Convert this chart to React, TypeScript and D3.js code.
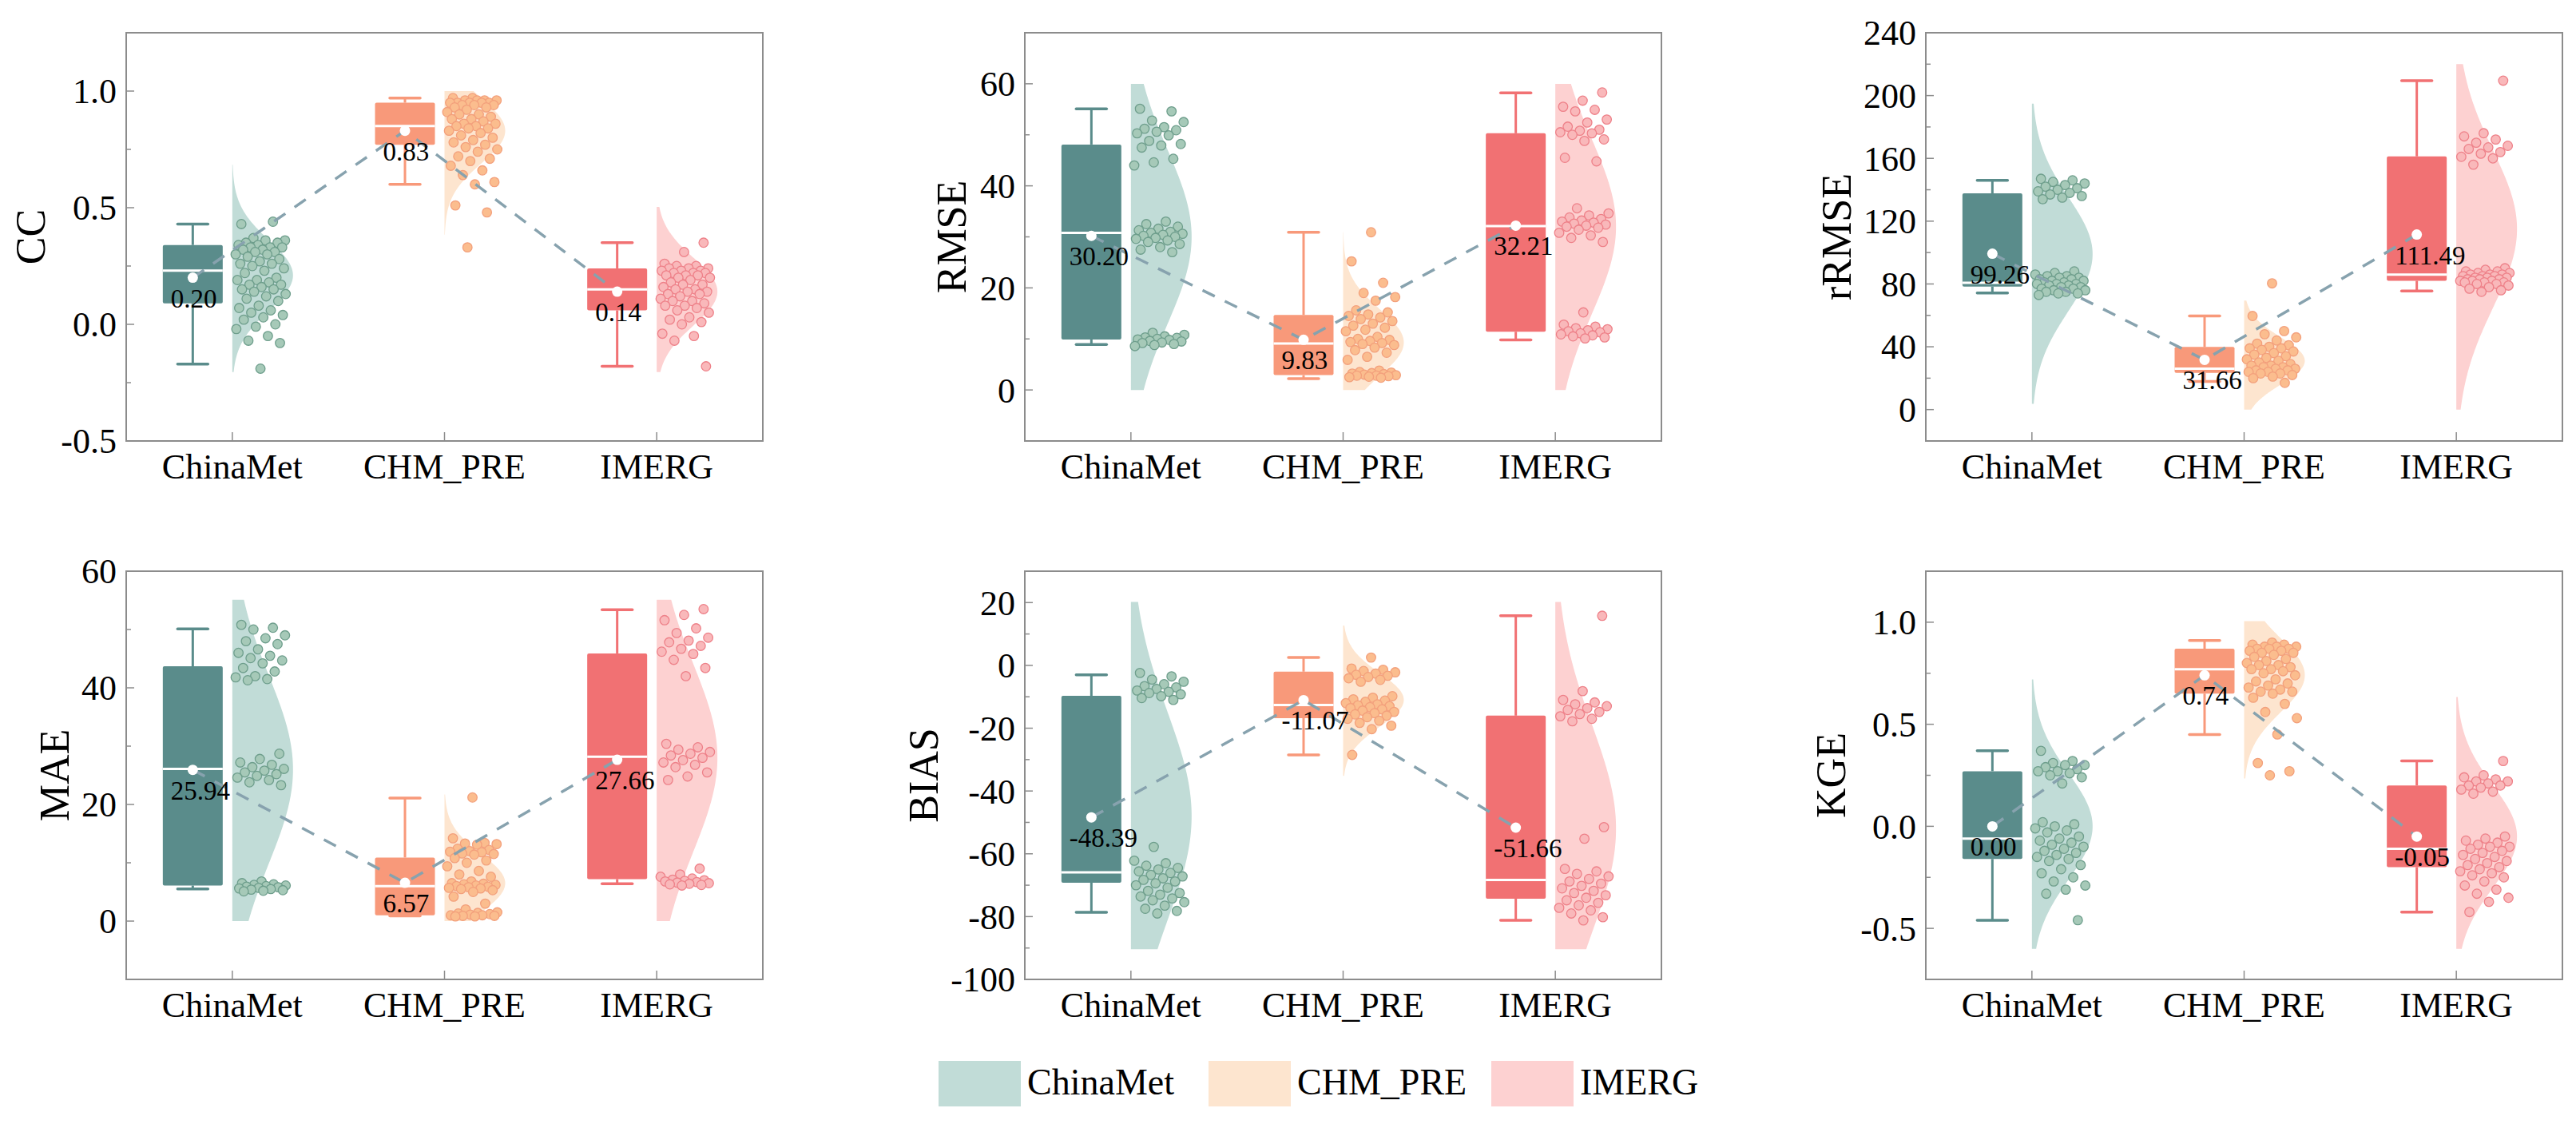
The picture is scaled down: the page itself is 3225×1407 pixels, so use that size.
import * as d3 from 'd3'
import { useEffect, useRef } from 'react'

const categories = ['ChinaMet', 'CHM_PRE', 'IMERG']
const boxColors = ['#5a8c8b', '#f8997a', '#f17173']
const violinColors = ['#c1dcd7', '#fde5cf', '#fdd1d1']
const pointFills = ['#a6c9b8', '#fbbd8e', '#f9b8ba']
const pointStrokes = ['#6e9e8c', '#f3a07c', '#ee8189']

// CC
const ccChinaMet = [0.43, 0.44, 0.37, 0.36, 0.36, 0.35, 0.35, 0.34, 0.34, 0.33, 0.33, 0.33, 0.32, 0.32, 0.31, 0.31, 0.30, 0.30, 0.29, 0.28, 0.27, 0.26, 0.26, 0.25, 0.24, 0.23, 0.22, 0.20, 0.19, 0.19, 0.18, 0.17, 0.17, 0.16, 0.15, 0.15, 0.14, 0.13, 0.12, 0.11, 0.10, 0.08, 0.07, 0.06, 0.05, 0.04, 0.03, 0.02, 0.00, -0.01, -0.02, -0.05, -0.07, -0.08, -0.19]
const ccChmPre = [0.97, 0.97, 0.96, 0.96, 0.96, 0.96, 0.95, 0.95, 0.95, 0.95, 0.95, 0.94, 0.94, 0.94, 0.93, 0.93, 0.92, 0.91, 0.90, 0.90, 0.89, 0.88, 0.88, 0.87, 0.86, 0.86, 0.85, 0.85, 0.84, 0.84, 0.83, 0.82, 0.81, 0.80, 0.79, 0.78, 0.77, 0.76, 0.75, 0.74, 0.72, 0.71, 0.70, 0.68, 0.66, 0.64, 0.61, 0.60, 0.51, 0.48, 0.33]
const ccImerg = [0.35, 0.31, 0.26, 0.25, 0.25, 0.24, 0.24, 0.24, 0.23, 0.23, 0.23, 0.22, 0.22, 0.22, 0.21, 0.21, 0.21, 0.20, 0.20, 0.19, 0.18, 0.17, 0.17, 0.16, 0.15, 0.15, 0.14, 0.14, 0.13, 0.13, 0.12, 0.11, 0.10, 0.10, 0.09, 0.08, 0.08, 0.07, 0.06, 0.05, 0.03, 0.02, 0.01, 0.00, -0.04, -0.05, -0.07, -0.18]
const ccBox = [[-0.17, 0.09, 0.23, 0.34, 0.43], [0.60, 0.77, 0.85, 0.95, 0.97], [-0.18, 0.06, 0.15, 0.24, 0.35]]
const ccMeans = [0.20, 0.83, 0.14]
const ccViolin = [[-0.205, 0.684, 0.21, 0.15], [0.384, 1.0, 0.83, 0.14], [-0.205, 0.503, 0.14, 0.145]]
const ccTicks = [-0.5, 0, 0.5, 1.0]

// RMSE
const rmseChinaMet = [55.1, 54.6, 52.8, 52.5, 51.5, 51.2, 50.9, 50.6, 50.3, 49.9, 48.8, 48.2, 47.9, 47.5, 45.3, 44.6, 44.0, 33.0, 32.5, 32.0, 31.6, 31.3, 31.0, 30.8, 30.6, 30.4, 30.2, 30.0, 29.8, 29.6, 29.3, 29.0, 28.6, 28.0, 27.5, 27.0, 11.2, 10.8, 10.5, 10.3, 10.2, 10.0, 9.9, 9.8, 9.6, 9.5, 9.3, 9.2, 9.0, 8.8, 8.6]
const rmseChmPre = [30.9, 25.2, 21.0, 19.0, 18.2, 17.5, 15.6, 15.2, 14.8, 14.5, 14.2, 13.9, 13.5, 13.0, 12.6, 12.2, 11.8, 11.5, 10.4, 10.0, 9.8, 9.6, 9.4, 9.2, 9.0, 8.8, 8.3, 7.8, 7.3, 6.5, 5.9, 3.8, 3.5, 3.4, 3.3, 3.2, 3.1, 3.0, 2.9, 2.8, 2.8, 2.7, 2.6, 2.5, 2.4]
const rmseImerg = [58.3, 56.7, 55.5, 54.9, 54.6, 53.0, 52.4, 51.6, 51.0, 50.8, 50.5, 50.3, 50.0, 49.1, 48.8, 45.5, 44.8, 35.6, 34.6, 34.2, 33.8, 33.5, 33.2, 33.0, 32.8, 32.6, 32.4, 32.2, 32.0, 31.8, 31.4, 30.8, 30.3, 29.8, 29.0, 15.2, 12.8, 12.4, 12.1, 11.9, 11.7, 11.5, 11.3, 11.1, 10.9, 10.7, 10.5, 10.3, 10.1]
const rmseBox = [[8.9, 9.9, 30.8, 48.1, 55.1], [2.2, 2.9, 9.1, 14.7, 30.9], [9.8, 11.4, 32.1, 50.3, 58.2]]
const rmseMeans = [30.20, 9.83, 32.21]
const rmseViolin = [[0, 60, 30, 17], [0, 30.9, 9.3, 6.5], [0, 60, 32, 17]]
const rmseTicks = [0, 20, 40, 60]

// rRMSE
const rrmseChinaMet = [147, 146, 145, 144, 143, 142, 141, 140, 139, 138, 137, 136, 135, 134, 88, 87, 86, 85, 85, 84, 84, 83, 83, 82, 82, 81, 81, 80, 80, 80, 79, 79, 78, 78, 77, 77, 76, 76, 75, 75, 74, 74, 73]
const rrmseChmPre = [80.4, 59.6, 50, 48, 46, 44, 42, 41, 40, 39, 39, 38, 37, 36, 35, 34, 33, 32, 31, 30, 29, 28, 28, 27, 27, 26, 26, 25, 25, 24, 24, 23, 23, 22, 21, 20, 17]
const rrmseImerg = [209.5, 176, 174, 172, 170, 168, 167, 166, 164, 163, 161, 160, 156, 90, 89, 88, 88, 87, 87, 86, 86, 86, 85, 85, 85, 84, 84, 84, 83, 83, 83, 82, 82, 82, 81, 81, 81, 80, 80, 79, 78, 77, 76, 75]
const rrmseBox = [[74.2, 78.3, 80.7, 137.7, 146], [17.9, 23.4, 26, 39.9, 59.6], [75.5, 82, 86, 161.3, 209.5]]
const rrmseMeans = [99.26, 31.66, 111.49]
const rrmseViolin = [[3.7, 194.8, 99, 36], [0, 69.4, 31, 15], [0, 220, 115, 50]]
const rrmseTicks = [0, 40, 80, 120, 160, 200, 240]

// MAE
const maeChinaMet = [50.8, 50.3, 50.0, 49.0, 48.5, 48.0, 47.5, 46.6, 46.0, 45.5, 45.1, 44.7, 44.2, 43.4, 42.8, 42.0, 41.8, 41.5, 41.3, 28.7, 27.8, 27.2, 26.8, 26.4, 26.1, 25.8, 25.5, 25.2, 24.9, 24.6, 24.2, 23.8, 23.3, 6.8, 6.5, 6.3, 6.2, 6.1, 6.0, 5.9, 5.8, 5.7, 5.6, 5.5, 5.4, 5.3, 5.2, 5.1]
const maeChmPre = [21.2, 14.2, 13.4, 13.3, 13.2, 13.1, 12.4, 12.2, 12.0, 11.9, 11.8, 11.6, 11.5, 11.4, 10.8, 10.4, 10.0, 9.4, 8.6, 8.0, 7.6, 6.8, 6.5, 6.4, 6.3, 6.2, 6.1, 6.0, 5.9, 5.8, 5.7, 5.6, 5.5, 5.3, 5.0, 4.2, 3.0, 2.0, 1.5, 1.4, 1.3, 1.2, 1.1, 1.0, 1.0, 0.9, 0.9, 0.8, 0.8]
const maeImerg = [53.5, 52.5, 51.6, 50.2, 49.4, 48.6, 48.1, 47.8, 47.2, 46.7, 46.2, 45.8, 44.8, 43.4, 42.0, 30.4, 29.8, 29.4, 29.0, 28.7, 28.4, 28.0, 27.6, 27.2, 26.8, 26.4, 25.5, 24.8, 24.2, 9.0, 8.0, 7.6, 7.3, 7.1, 7.0, 6.9, 6.8, 6.7, 6.6, 6.5, 6.4, 6.3, 6.2, 6.1]
const maeBox = [[5.5, 6.1, 26.1, 43.7, 50.1], [0.9, 1.0, 6.0, 10.9, 21.1], [6.4, 7.2, 28.2, 45.9, 53.4]]
const maeMeans = [25.94, 6.57, 27.66]
const maeViolin = [[0, 55.1, 26, 16], [0, 21.7, 6.5, 5], [0, 55.1, 28, 16]]
const maeTicks = [0, 20, 40, 60]

// BIAS
const biasChinaMet = [-2.4, -3.5, -4.5, -5.2, -6.0, -6.6, -7.0, -7.5, -8.0, -8.4, -8.8, -9.2, -9.8, -10.4, -11.0, -57.8, -62.2, -63.0, -63.8, -64.5, -65.0, -65.6, -66.1, -66.7, -67.2, -67.8, -68.3, -68.8, -69.4, -70.0, -70.8, -71.8, -72.5, -73.0, -73.6, -74.2, -74.8, -75.4, -76.5, -77.5, -78.2, -79.0]
const biasChmPre = [2.5, -1.0, -1.4, -1.8, -2.2, -2.6, -3.0, -3.3, -3.7, -4.1, -4.6, -5.2, -9.8, -10.3, -10.8, -11.2, -11.6, -12.0, -12.4, -12.7, -13.0, -13.3, -13.6, -14.0, -14.4, -14.8, -15.2, -15.6, -16.0, -16.5, -17.0, -17.6, -18.3, -19.2, -20.3, -28.5]
const biasImerg = [15.8, -8.2, -11.0, -11.8, -12.4, -13.0, -13.6, -14.2, -14.8, -15.5, -16.2, -17.0, -17.8, -51.5, -55.2, -64.8, -65.6, -66.4, -67.2, -68.0, -68.8, -69.5, -70.2, -71.0, -71.8, -72.5, -73.2, -74.0, -74.8, -75.6, -76.4, -77.2, -78.0, -79.0, -80.2, -81.2]
const biasBox = [[-78.6, -69.2, -65.9, -9.7, -3.0], [-28.5, -16.8, -12.6, -2.0, 2.5], [-81.2, -74.3, -68.3, -16.0, 15.8]]
const biasMeans = [-48.39, -11.07, -51.66]
const biasViolin = [[-90.4, 20.2, -48, 33], [-35.2, 12.7, -11, 8.5], [-90.4, 20.2, -52, 33]]
const biasTicks = [-100, -80, -60, -40, -20, 0, 20]

// KGE
const kgeChinaMet = [0.37, 0.32, 0.31, 0.30, 0.30, 0.29, 0.28, 0.27, 0.27, 0.26, 0.25, 0.24, 0.21, 0.02, 0.01, 0.00, -0.01, -0.02, -0.03, -0.05, -0.06, -0.07, -0.08, -0.09, -0.10, -0.11, -0.12, -0.13, -0.14, -0.15, -0.16, -0.17, -0.19, -0.21, -0.23, -0.25, -0.27, -0.29, -0.31, -0.33, -0.46]
const kgeChmPre = [0.90, 0.89, 0.89, 0.88, 0.88, 0.88, 0.87, 0.87, 0.87, 0.86, 0.86, 0.85, 0.85, 0.84, 0.83, 0.82, 0.81, 0.80, 0.79, 0.79, 0.78, 0.77, 0.77, 0.76, 0.75, 0.74, 0.72, 0.71, 0.70, 0.69, 0.68, 0.67, 0.66, 0.66, 0.65, 0.63, 0.60, 0.56, 0.53, 0.45, 0.31, 0.27, 0.25]
const kgeImerg = [0.32, 0.25, 0.24, 0.23, 0.22, 0.22, 0.21, 0.20, 0.20, 0.19, 0.18, 0.17, 0.16, -0.05, -0.06, -0.07, -0.08, -0.09, -0.10, -0.10, -0.11, -0.12, -0.13, -0.14, -0.15, -0.16, -0.17, -0.18, -0.19, -0.20, -0.21, -0.22, -0.23, -0.24, -0.25, -0.27, -0.29, -0.31, -0.33, -0.35, -0.37, -0.42]
const kgeBox = [[-0.46, -0.16, -0.06, 0.27, 0.37], [0.45, 0.65, 0.77, 0.87, 0.91], [-0.42, -0.20, -0.11, 0.20, 0.32]]
const kgeMeans = [0.00, 0.74, -0.05]
const kgeViolin = [[-0.60, 0.72, 0.0, 0.26], [0.234, 1.005, 0.74, 0.18], [-0.60, 0.634, -0.05, 0.25]]
const kgeTicks = [-0.5, 0, 0.5, 1.0]

const panels = [
    { title: 'CC', points: [ccChinaMet, ccChmPre, ccImerg], box: ccBox, means: ccMeans, violin: ccViolin, ticks: ccTicks, domain: [-0.5, 1.25], fmt: '.1f', col: 0, row: 0, titleDx: 119 },
    { title: 'RMSE', points: [rmseChinaMet, rmseChmPre, rmseImerg], box: rmseBox, means: rmseMeans, violin: rmseViolin, ticks: rmseTicks, domain: [-10, 70], fmt: 'd', col: 1, row: 0, titleDx: 91 },
    { title: 'rRMSE', points: [rrmseChinaMet, rrmseChmPre, rrmseImerg], box: rrmseBox, means: rrmseMeans, violin: rrmseViolin, ticks: rrmseTicks, domain: [-20, 240], fmt: 'd', col: 2, row: 0, titleDx: 111 },
    { title: 'MAE', points: [maeChinaMet, maeChmPre, maeImerg], box: maeBox, means: maeMeans, violin: maeViolin, ticks: maeTicks, domain: [-10, 60], fmt: 'd', col: 0, row: 1, titleDx: 89 },
    { title: 'BIAS', points: [biasChinaMet, biasChmPre, biasImerg], box: biasBox, means: biasMeans, violin: biasViolin, ticks: biasTicks, domain: [-100, 30], fmt: 'd', col: 1, row: 1, titleDx: 126 },
    { title: 'KGE', points: [kgeChinaMet, kgeChmPre, kgeImerg], box: kgeBox, means: kgeMeans, violin: kgeViolin, ticks: kgeTicks, domain: [-0.75, 1.25], fmt: '.1f', col: 2, row: 1, titleDx: 118 },
]

const W = 3225
const H = 1407
const colLefts = [158, 1283, 2411]
const rowTops = [41, 715]
const panelW = 797
const panelH = 511
const FONT = "'Liberation Serif', 'Times New Roman', serif"

export default function App() {
    const svgRef = useRef<SVGSVGElement>(null)

    useEffect(() => {
        makeChart(svgRef)
    }, [])

    function makeChart(svgRef: React.RefObject<SVGSVGElement>) {
        const svg = d3.select(svgRef.current)
        svg.selectAll('*').remove()
        svg.append('rect').attr('width', W).attr('height', H).attr('fill', 'white')

        const hyph = (s: string) => s.replace('\u2212', '-')

        panels.forEach(p => {
            const left = colLefts[p.col]
            const top = rowTops[p.row]
            const bottom = top + panelH
            const g = svg.append('g')

            const x = d3.scaleBand().domain(categories).range([left, left + panelW])
            const y = d3.scaleLinear().domain(p.domain).range([bottom, top])
            const cx = (c: string) => (x(c) as number) + x.bandwidth() / 2
            const fmt = d3.format(p.fmt)

            // frame
            g.append('rect')
                .attr('x', left).attr('y', top).attr('width', panelW).attr('height', panelH)
                .attr('fill', 'none').attr('stroke', '#8c8c8c').attr('stroke-width', 2)

            // y ticks (inward), minor ticks at midpoints
            const minor = d3.pairs(p.ticks).map(([a, b]) => (a + b) / 2)
            g.selectAll('.maj').data(p.ticks).enter().append('line')
                .attr('x1', left).attr('x2', left + 10)
                .attr('y1', d => y(d)).attr('y2', d => y(d))
                .attr('stroke', '#8c8c8c').attr('stroke-width', 1.5)
            g.selectAll('.min').data(minor).enter().append('line')
                .attr('x1', left).attr('x2', left + 6)
                .attr('y1', d => y(d)).attr('y2', d => y(d))
                .attr('stroke', '#8c8c8c').attr('stroke-width', 1.5)
            g.selectAll('.ylab').data(p.ticks).enter().append('text')
                .attr('x', left - 12).attr('y', d => y(d)).attr('dy', '0.35em')
                .attr('text-anchor', 'end').attr('font-family', FONT).attr('font-size', 44)
                .text(d => hyph(fmt(d)))

            // x ticks and labels
            g.selectAll('.xt').data(categories).enter().append('line')
                .attr('x1', d => cx(d)).attr('x2', d => cx(d))
                .attr('y1', bottom).attr('y2', bottom - 11)
                .attr('stroke', '#8c8c8c').attr('stroke-width', 1.5)
            g.selectAll('.xlab').data(categories).enter().append('text')
                .attr('x', d => cx(d)).attr('y', bottom + 47)
                .attr('text-anchor', 'middle').attr('font-family', FONT).attr('font-size', 44)
                .text(d => d)

            // y title
            g.append('text')
                .attr('transform', `translate(${left - p.titleDx + 17},${top + panelH / 2}) rotate(-90)`)
                .attr('text-anchor', 'middle').attr('font-family', FONT).attr('font-size', 52)
                .text(p.title)

            // half violins
            categories.forEach((c, i) => {
                const [lo, hi, mu, sd] = p.violin[i]
                const vals = d3.range(0, 121).map(k => lo + (hi - lo) * k / 120)
                const area = d3.area<number>()
                    .x0(cx(c))
                    .x1(v => cx(c) + 76 * Math.exp(-((v - mu) ** 2) / (2 * sd * sd)))
                    .y(v => y(v))
                    .curve(d3.curveBasis)
                g.append('path').attr('d', area(vals)).attr('fill', violinColors[i])
            })

            // jittered points
            categories.forEach((c, i) => {
                g.selectAll(null).data(p.points[i]).enter().append('circle')
                    .attr('cx', (d, k) => cx(c) + 3 + ((k * 0.6180339887 + 0.37 * i + 0.13) % 1) * 64)
                    .attr('cy', d => y(d))
                    .attr('r', 5.8)
                    .attr('fill', pointFills[i])
                    .attr('stroke', pointStrokes[i])
                    .attr('stroke-width', 1.3)
            })

            // boxes
            categories.forEach((c, i) => {
                const [wlo, q1, med, q3, whi] = p.box[i]
                const bx0 = cx(c) - 87
                const bx1 = cx(c) - 12
                const bc = (bx0 + bx1) / 2
                const col = boxColors[i]
                g.append('line').attr('x1', bc).attr('x2', bc).attr('y1', y(whi)).attr('y2', y(q3))
                    .attr('stroke', col).attr('stroke-width', 3)
                g.append('line').attr('x1', bc).attr('x2', bc).attr('y1', y(q1)).attr('y2', y(wlo))
                    .attr('stroke', col).attr('stroke-width', 3)
                g.selectAll(null).data([whi, wlo]).enter().append('line')
                    .attr('x1', bc - 19).attr('x2', bc + 19)
                    .attr('y1', d => y(d)).attr('y2', d => y(d))
                    .attr('stroke', col).attr('stroke-width', 3.5).attr('stroke-linecap', 'round')
                g.append('rect')
                    .attr('x', bx0).attr('width', bx1 - bx0)
                    .attr('y', y(q3)).attr('height', Math.max(1, y(q1) - y(q3)))
                    .attr('rx', 2).attr('fill', col)
                g.append('line').attr('x1', bx0).attr('x2', bx1).attr('y1', y(med)).attr('y2', y(med))
                    .attr('stroke', 'white').attr('stroke-width', 3)
            })

            // dashed line through means
            const meanX = (i: number) => cx(categories[i]) - 49.5
            const line = d3.line<number>().x((d, i) => meanX(i)).y(d => y(d))
            g.append('path').attr('d', line(p.means))
                .attr('fill', 'none').attr('stroke', '#87a2ae').attr('stroke-width', 3.5)
                .attr('stroke-dasharray', '17,14')

            // mean points and labels
            g.selectAll(null).data(p.means).enter().append('circle')
                .attr('cx', (d, i) => meanX(i)).attr('cy', d => y(d)).attr('r', 6.5)
                .attr('fill', 'white')
            g.selectAll(null).data(p.means).enter().append('text')
                .attr('x', (d, i) => cx(categories[i]) - 77).attr('y', d => y(d) + 37)
                .attr('font-family', FONT).attr('font-size', 33)
                .text(d => hyph(d3.format('.2f')(d)))
        })

        // legend
        const legendX = [1175, 1513, 1867]
        const lg = svg.append('g')
        categories.forEach((c, i) => {
            lg.append('rect').attr('x', legendX[i]).attr('y', 1328).attr('width', 103).attr('height', 57)
                .attr('fill', violinColors[i])
            lg.append('text').attr('x', legendX[i] + 111).attr('y', 1370)
                .attr('font-family', FONT).attr('font-size', 46).text(c)
        })
    }

    return (
        <svg ref={svgRef} width={W} height={H}
            style={{ position: 'absolute', left: 0, top: 0, display: 'block' }}></svg>
    )
}
